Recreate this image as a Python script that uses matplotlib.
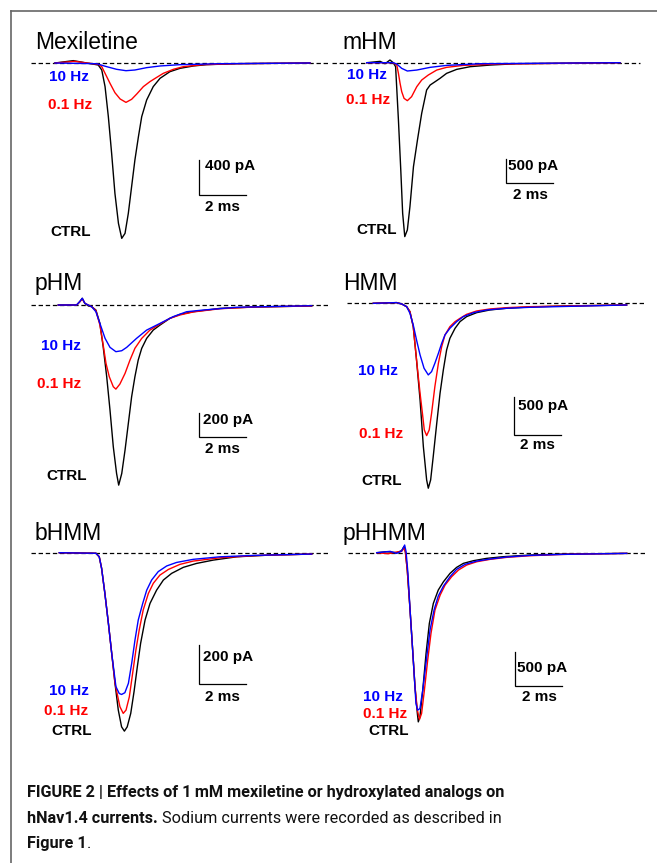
import matplotlib
matplotlib.use("Agg")
import matplotlib.pyplot as plt
from matplotlib.lines import Line2D
from matplotlib import font_manager

# ---------------- DATA (time in ms, current in pA) ----------------
# Mexiletine
mex_ctrl_t = [0, 0.78, 1.35, 1.84, 1.99, 2.13, 2.27, 2.41, 2.55, 2.70, 2.84, 2.98, 3.12, 3.26, 3.40, 3.55, 3.69, 3.90, 4.18, 4.47, 4.89, 5.32, 5.89, 6.45, 7.73, 10.85]
mex_ctrl_i = [0, 27, 0, -23, -80, -270, -613, -1033, -1490, -1833, -2004, -1947, -1718, -1413, -1109, -842, -613, -423, -270, -175, -99, -61, -34, -19, -8, 0]
mex_01_t = [0, 0.85, 1.35, 1.84, 1.99, 2.13, 2.34, 2.55, 2.77, 3.02, 3.26, 3.48, 3.76, 4.04, 4.33, 4.61, 5.04, 5.46, 6.31, 7.73, 10.85]
mex_01_i = [0, 19, 0, -15, -42, -118, -232, -339, -411, -450, -415, -354, -270, -213, -164, -118, -72, -42, -19, -8, 0]
mex_10_t = [0, 1.77, 2.20, 2.62, 3.02, 3.40, 3.90, 4.47, 5.32, 7.02, 10.85]
mex_10_i = [0, -8, -42, -72, -88, -80, -53, -34, -19, -8, 0]

# mHM
mhm_ctrl_t = [0, 0.57, 0.78, 0.99, 1.13, 1.23, 1.35, 1.45, 1.53, 1.62, 1.73, 1.84, 1.99, 2.16, 2.34, 2.55, 2.70, 2.91, 3.12, 3.40, 3.83, 4.40, 5.25, 6.38, 10.78]
mhm_ctrl_i = [0, 28, -21, 56, 0, -83, -1194, -2235, -3137, -3623, -3484, -2998, -2165, -1610, -1055, -569, -465, -396, -326, -222, -139, -83, -49, -21, 0]
mhm_01_t = [0, 1.13, 1.28, 1.35, 1.42, 1.49, 1.59, 1.73, 1.91, 2.13, 2.34, 2.62, 2.98, 3.40, 4.11, 5.53, 10.78]
mhm_01_i = [0, 0, -49, -222, -430, -604, -743, -791, -708, -500, -361, -257, -153, -97, -56, -28, 0]
mhm_10_t = [0, 1.13, 1.28, 1.49, 1.73, 2.13, 2.70, 3.40, 4.82, 10.78]
mhm_10_i = [0, 0, -28, -118, -173, -153, -97, -56, -21, 0]

# pHM
phm_ctrl_t = [0, 0.78, 0.92, 1.02, 1.13, 1.28, 1.42, 1.60, 1.77, 1.91, 2.06, 2.20, 2.34, 2.48, 2.57, 2.70, 2.84, 2.98, 3.12, 3.26, 3.40, 3.55, 3.76, 4.04, 4.33, 4.75, 5.18, 5.74, 6.88, 8.30, 10.78]
phm_ctrl_i = [0, 0, 28, 56, 14, -8, -14, -42, -153, -348, -598, -876, -1181, -1404, -1501, -1404, -1209, -987, -765, -598, -459, -361, -278, -209, -167, -111, -78, -56, -28, -17, -8]
phm_01_t = [0, 0.78, 0.92, 1.02, 1.13, 1.42, 1.60, 1.77, 1.91, 2.03, 2.17, 2.34, 2.45, 2.62, 2.84, 3.05, 3.26, 3.55, 3.90, 4.33, 4.75, 5.18, 5.74, 6.88, 8.30, 10.78]
phm_01_i = [0, 0, 28, 50, 14, -14, -47, -167, -334, -487, -598, -681, -701, -659, -570, -459, -361, -278, -209, -158, -111, -83, -58, -31, -17, -8]
phm_10_t = [0, 0.78, 0.92, 1.02, 1.13, 1.42, 1.60, 1.77, 1.99, 2.20, 2.45, 2.70, 2.91, 3.33, 3.76, 4.33, 4.89, 5.46, 6.17, 7.59, 10.78]
phm_10_i = [0, 0, 31, 56, 14, -14, -56, -153, -278, -353, -389, -381, -353, -278, -209, -153, -97, -56, -42, -19, -6]

# HMM
hmm_ctrl_t = [0, 0.99, 1.21, 1.42, 1.56, 1.70, 1.84, 1.99, 2.13, 2.27, 2.34, 2.44, 2.55, 2.70, 2.84, 2.98, 3.12, 3.26, 3.48, 3.69, 3.97, 4.40, 4.96, 5.67, 6.67, 8.09, 10.78]
hmm_ctrl_i = [0, 9, -9, -44, -109, -305, -740, -1262, -1871, -2306, -2414, -2306, -2001, -1566, -1175, -870, -609, -457, -326, -239, -174, -122, -87, -65, -48, -35, -22]
hmm_01_t = [0, 0.99, 1.21, 1.42, 1.56, 1.70, 1.84, 1.99, 2.09, 2.17, 2.27, 2.38, 2.48, 2.62, 2.77, 2.91, 3.05, 3.26, 3.48, 3.69, 3.97, 4.40, 4.96, 5.67, 6.67, 10.78]
hmm_01_i = [0, 9, -9, -44, -109, -305, -740, -1175, -1436, -1653, -1727, -1653, -1436, -1088, -783, -566, -413, -305, -239, -196, -144, -100, -74, -57, -44, -22]
hmm_10_t = [0, 0.99, 1.21, 1.42, 1.56, 1.70, 1.84, 1.99, 2.16, 2.34, 2.48, 2.62, 2.77, 2.91, 3.05, 3.26, 3.55, 3.83, 4.26, 4.82, 5.67, 6.67, 10.78]
hmm_10_i = [0, 9, -9, -44, -131, -283, -479, -674, -848, -935, -892, -783, -653, -522, -413, -326, -239, -174, -122, -87, -65, -52, -22]

# bHMM
bhmm_ctrl_t = [0, 1.56, 1.70, 1.80, 1.94, 2.09, 2.23, 2.37, 2.51, 2.65, 2.77, 2.89, 3.04, 3.18, 3.32, 3.46, 3.65, 3.86, 4.14, 4.43, 4.78, 5.28, 5.84, 6.55, 7.55, 8.96, 10.74]
bhmm_ctrl_i = [0, -3, -21, -80, -209, -363, -516, -670, -807, -893, -915, -893, -824, -713, -585, -465, -345, -260, -192, -140, -106, -75, -55, -38, -21, -12, -7]
bhmm_01_t = [0, 1.56, 1.70, 1.80, 1.94, 2.09, 2.23, 2.37, 2.58, 2.72, 2.84, 2.98, 3.12, 3.26, 3.40, 3.57, 3.79, 4.00, 4.28, 4.64, 5.13, 5.70, 6.84, 8.26, 10.74]
bhmm_01_i = [0, -3, -21, -80, -209, -363, -516, -670, -790, -824, -807, -739, -619, -499, -397, -294, -209, -157, -115, -86, -60, -43, -26, -15, -7]
bhmm_10_t = [0, 1.56, 1.70, 1.80, 1.94, 2.09, 2.23, 2.41, 2.55, 2.65, 2.79, 2.94, 3.08, 3.22, 3.36, 3.55, 3.72, 3.93, 4.21, 4.57, 4.99, 5.70, 6.84, 8.26, 10.74]
bhmm_10_i = [0, -3, -21, -80, -209, -363, -516, -687, -722, -727, -718, -670, -568, -448, -345, -260, -192, -140, -97, -68, -50, -34, -21, -14, -7]

# pHHMM
phhmm_ctrl_t = [0, 0.43, 0.85, 1.06, 1.16, 1.22, 1.30, 1.42, 1.53, 1.63, 1.73, 1.77, 1.84, 1.96, 2.10, 2.24, 2.41, 2.62, 2.84, 3.12, 3.40, 3.69, 4.11, 4.68, 5.39, 6.52, 7.94, 10.64]
phhmm_ctrl_i = [0, 15, 0, 30, 89, 15, -257, -851, -1445, -1990, -2386, -2510, -2435, -2039, -1495, -1049, -752, -554, -431, -307, -218, -158, -119, -84, -59, -35, -20, -10]
phhmm_01_t = [0, 0.50, 0.85, 1.06, 1.16, 1.22, 1.30, 1.42, 1.53, 1.63, 1.73, 1.82, 1.91, 2.03, 2.17, 2.31, 2.48, 2.70, 2.91, 3.19, 3.48, 3.83, 4.26, 4.82, 5.53, 6.52, 7.94, 10.64]
phhmm_01_i = [0, -15, 10, 20, 64, 15, -257, -851, -1445, -1990, -2336, -2475, -2386, -2039, -1594, -1198, -851, -629, -480, -356, -257, -183, -134, -99, -69, -45, -25, -10]
phhmm_10_t = [0, 0.57, 0.85, 1.06, 1.19, 1.25, 1.33, 1.42, 1.53, 1.67, 1.74, 1.84, 1.96, 2.13, 2.27, 2.44, 2.62, 2.84, 3.12, 3.40, 3.76, 4.26, 4.82, 5.53, 6.52, 7.94, 10.64]
phhmm_10_i = [0, 20, -10, 25, 114, 15, -307, -851, -1445, -2237, -2336, -2312, -2039, -1544, -1148, -851, -643, -495, -356, -247, -173, -124, -94, -64, -40, -25, -10]

panel_titles = ["Mexiletine", "mHM", "pHM", "HMM", "bHMM", "pHHMM"]
scale_pa = [400, 500, 200, 500, 200, 500]
scale_ms = 2
label_10 = "10 Hz"
label_01 = "0.1 Hz"
label_ctrl = "CTRL"

traces = [
    (mex_ctrl_t, mex_ctrl_i, mex_01_t, mex_01_i, mex_10_t, mex_10_i),
    (mhm_ctrl_t, mhm_ctrl_i, mhm_01_t, mhm_01_i, mhm_10_t, mhm_10_i),
    (phm_ctrl_t, phm_ctrl_i, phm_01_t, phm_01_i, phm_10_t, phm_10_i),
    (hmm_ctrl_t, hmm_ctrl_i, hmm_01_t, hmm_01_i, hmm_10_t, hmm_10_i),
    (bhmm_ctrl_t, bhmm_ctrl_i, bhmm_01_t, bhmm_01_i, bhmm_10_t, bhmm_10_i),
    (phhmm_ctrl_t, phhmm_ctrl_i, phhmm_01_t, phhmm_01_i, phhmm_10_t, phhmm_10_i),
]

# ---------------- LAYOUT (pixels) ----------------
W, H = 657, 863
PX_PER_MS = 23.5
origins = [(55, 63), (366.7, 62.7), (58.3, 305), (373.3, 303.3), (59.3, 552.7), (376.7, 552.7)]
bar_px = [35, 24, 24, 38.3, 39, 33.7]
boxes = [(20, 20, 330, 250), (330, 20, 650, 250), (20, 260, 330, 500),
         (330, 260, 650, 500), (20, 510, 330, 750), (330, 510, 650, 750)]
dash_x = [(30.7, 330), (332, 640), (30.7, 330), (346.7, 645), (30.7, 330), (348.3, 646.7)]
bar_corner = [(199, 195), (506, 183.3), (199.3, 436.7), (514.3, 435), (199.3, 684), (515, 686)]
pa_lab = [(205, 166), (508, 166), (202.7, 420), (517.7, 406), (202.7, 657), (517.3, 668.3)]
ms_lab = [(205, 207), (512.7, 195), (205, 449.3), (520, 445), (205, 696.7), (521.7, 696.7)]
title_pos = [(35, 49.3), (342.7, 49.3), (35, 290), (342.7, 290), (35, 540), (342.7, 540)]
lab10_pos = [(49, 77), (347, 75), (40.7, 346), (358.3, 371), (49.3, 691), (362.7, 696.7)]
lab01_pos = [(48, 105), (346, 100), (36.7, 384), (359.3, 434), (44, 711), (363.3, 714)]
labc_pos = [(50, 232), (356.7, 230), (46, 476), (361.7, 481), (51.7, 730.7), (368.3, 730.7)]

BLUE = "#0000ff"
RED = "#ff0000"
FONT = ["Liberation Sans", "DejaVu Sans"]
LW = 1.0

fig = plt.figure(figsize=(W / 100, H / 100), dpi=100)
fig.patch.set_facecolor("white")


def fx(x):
    return x / W


def fy(y):
    return 1 - y / H


for k in range(6):
    x0, y0, x1, y1 = boxes[k]
    ox, oy = origins[k]
    pa_per_px = scale_pa[k] / bar_px[k]
    ax = fig.add_axes([fx(x0), fy(y1), (x1 - x0) / W, (y1 - y0) / H])
    ax.set_xlim((x0 - ox) / PX_PER_MS, (x1 - ox) / PX_PER_MS)
    ax.set_ylim((oy - y1) * pa_per_px, (oy - y0) * pa_per_px)
    ax.axis("off")

    def to_data(px, py):
        return (px - ox) / PX_PER_MS, (oy - py) * pa_per_px

    da, _ = to_data(dash_x[k][0], oy)
    db, _ = to_data(dash_x[k][1], oy)
    ax.plot([da, db], [0, 0], color="black", lw=0.9, dashes=(3.5, 2.2), zorder=1)

    ct, ci, rt, ri, bt, bi = traces[k]
    ax.plot(ct, ci, color="black", lw=LW, zorder=2, clip_on=False)
    ax.plot(rt, ri, color=RED, lw=LW, zorder=3, clip_on=False)
    ax.plot(bt, bi, color=BLUE, lw=LW, zorder=4, clip_on=False)

    bx, by = to_data(*bar_corner[k])
    ax.plot([bx, bx, bx + scale_ms], [by + scale_pa[k], by, by], color="black",
            lw=0.9, solid_joinstyle="miter", clip_on=False)

    fig.text(fx(pa_lab[k][0]), fy(pa_lab[k][1]), f"{scale_pa[k]} pA", ha="left", va="center",
             fontsize=11, fontweight="bold", family=FONT)
    fig.text(fx(ms_lab[k][0]), fy(ms_lab[k][1]), f"{scale_ms} ms", ha="left", va="center",
             fontsize=11, fontweight="bold", family=FONT)

    fig.text(fx(title_pos[k][0]), fy(title_pos[k][1]), panel_titles[k], ha="left",
             va="baseline", fontsize=16.5, family=FONT)
    fig.text(fx(lab10_pos[k][0]), fy(lab10_pos[k][1]), label_10, ha="left", va="center",
             fontsize=11, fontweight="bold", color=BLUE, family=FONT)
    fig.text(fx(lab01_pos[k][0]), fy(lab01_pos[k][1]), label_01, ha="left", va="center",
             fontsize=11, fontweight="bold", color=RED, family=FONT)
    fig.text(fx(labc_pos[k][0]), fy(labc_pos[k][1]), label_ctrl, ha="left", va="center",
             fontsize=11, fontweight="bold", color="black", family=FONT)

# frame lines (top and left)
fig.add_artist(Line2D([fx(11), fx(657)], [fy(11), fy(11)], color="#666666", lw=1.2))
fig.add_artist(Line2D([fx(11), fx(11)], [fy(11), fy(863)], color="#666666", lw=1.2))

# caption (font size fitted so the first line spans its width in the reference)
names = {f.name for f in font_manager.fontManager.ttflist}
cap_family = "Roboto" if "Roboto" in names else "Liberation Sans"
CAP_FONT = [cap_family, "DejaVu Sans"]
cap_lines = [
    [("FIGURE 2 | Effects of 1\u2009mM mexiletine or hydroxylated analogs on", "bold")],
    [("hNav1.4 currents.", "bold"), (" Sodium currents were recorded as described in", "normal")],
    [("Figure 1", "bold"), (".", "normal")],
]
cap_base = [796.7, 823, 848]
cap_x = 27.3
line1_target = 478.0
renderer = fig.canvas.get_renderer()
probe = fig.text(0, 0, cap_lines[0][0][0], fontsize=12, fontweight="bold", family=CAP_FONT)
pw = probe.get_window_extent(renderer=renderer).width
probe.remove()
cap_size = 12 * line1_target / pw

for line, yb in zip(cap_lines, cap_base):
    x = cap_x
    for txt, wt in line:
        t = fig.text(fx(x), fy(yb), txt, ha="left", va="baseline", fontsize=cap_size,
                     fontweight=wt, family=CAP_FONT, color="#111111")
        bb = t.get_window_extent(renderer=renderer)
        x += bb.width

fig.savefig("out.png", dpi=100, facecolor="white")
